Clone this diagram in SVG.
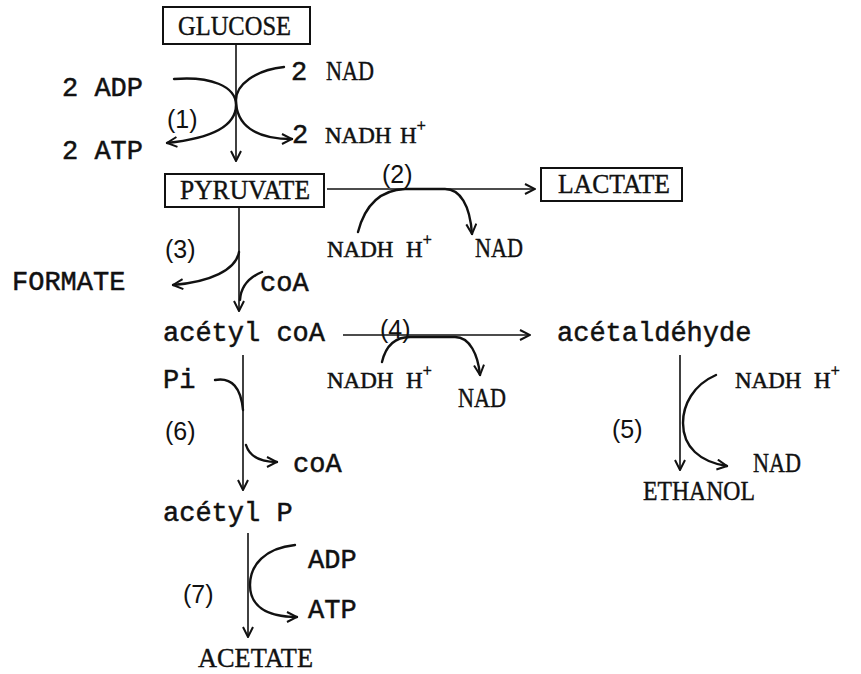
<svg xmlns="http://www.w3.org/2000/svg" width="861" height="674" viewBox="0 0 861 674">
<style>
.mono{font-family:"Liberation Mono","Courier New",monospace;font-size:27px;fill:#111;stroke:#111;stroke-width:0.5}
.serif{font-family:"Liberation Serif","Times New Roman",serif;font-size:27px;fill:#111;stroke:#111;stroke-width:0.4}
.nadh{font-family:"Liberation Serif","Times New Roman",serif;font-size:23px;fill:#111;stroke:#111;stroke-width:0.5}
.hand{font-family:"Liberation Sans",Arial,sans-serif;font-size:25px;fill:#111}
.box{fill:#fff;stroke:#111;stroke-width:2}
.ln{fill:none;stroke:#111;stroke-width:1.6}
.cv{fill:none;stroke:#111;stroke-width:2.4;stroke-linecap:round}
</style>
<defs>
<marker id="chev" viewBox="0 0 12 12" refX="11" refY="6" markerWidth="12" markerHeight="12" markerUnits="userSpaceOnUse" orient="auto">
<path d="M1,1 L11,6 L1,11" fill="none" stroke="#111" stroke-width="2"/>
</marker>
</defs>
<rect width="861" height="674" fill="#fff"/>

<g id="connectors">
<path class="ln" d="M236,44 V161" marker-end="url(#chev)"/>
<path class="cv" d="M174,79 C210,76 236,86 236,105 C236,125 215,138 167,143" marker-end="url(#chev)"/>
<path class="cv" d="M284,67 C255,70 236,85 236,100 C236,125 255,139 292,139" marker-end="url(#chev)"/>
<path class="ln" d="M327,189 H535" marker-end="url(#chev)"/>
<path class="cv" d="M358,232 C365,205 380,190 405,189 H445 C460,189 470,205 472,234" marker-end="url(#chev)"/>
<path class="ln" d="M239,208 V311" marker-end="url(#chev)"/>
<path class="cv" d="M239,252 C236,270 210,282 173,285" marker-end="url(#chev)"/>
<path class="cv" d="M262,272 C250,277 241,285 240,300"/>
<path class="ln" d="M343,335 H530" marker-end="url(#chev)"/>
<path class="cv" d="M382,362 C386,345 395,337 410,337 H455 C470,337 478,355 480,375" marker-end="url(#chev)"/>
<path class="ln" d="M680,355 V470" marker-end="url(#chev)"/>
<path class="cv" d="M716,375 C693,385 683,405 683,423 C683,447 700,462 727,466" marker-end="url(#chev)"/>
<path class="ln" d="M243,355 V490" marker-end="url(#chev)"/>
<path class="cv" d="M215,380 C232,377 241,388 243,410"/>
<path class="cv" d="M246,445 C250,458 262,462 277,462" marker-end="url(#chev)"/>
<path class="ln" d="M248,533 V637" marker-end="url(#chev)"/>
<path class="cv" d="M295,545 C265,548 250,565 250,585 C250,605 265,617 297,617" marker-end="url(#chev)"/>
</g>

<g id="glucose">
<rect class="box" x="163" y="7" width="147" height="37"/>
<text class="serif" x="178" y="35" textLength="113" lengthAdjust="spacingAndGlyphs">GLUCOSE</text>
</g>
<g id="pyruvate">
<rect class="box" x="165" y="174" width="159" height="33"/>
<text class="serif" x="180" y="199" textLength="130" lengthAdjust="spacingAndGlyphs">PYRUVATE</text>
</g>
<g id="lactate">
<rect class="box" x="541" y="168" width="141" height="33"/>
<text class="serif" x="558" y="193" textLength="112" lengthAdjust="spacingAndGlyphs">LACTATE</text>
</g>
<g id="formate"><text class="mono" x="12" y="290">FORMATE</text></g>
<g id="acetylcoa"><text class="mono" x="163" y="341">acétyl coA</text></g>
<g id="acetaldehyde"><text class="mono" x="557" y="341">acétaldéhyde</text></g>
<g id="ethanol"><text class="serif" x="643" y="500" textLength="112" lengthAdjust="spacingAndGlyphs">ETHANOL</text></g>
<g id="acetylp"><text class="mono" x="163" y="521">acétyl P</text></g>
<g id="acetate"><text class="serif" x="198" y="667" textLength="115" lengthAdjust="spacingAndGlyphs">ACETATE</text></g>

<g id="step1">
<text class="mono" x="62" y="96">2 ADP</text>
<text class="mono" x="62" y="159">2 ATP</text>
<text class="mono" x="291" y="80">2</text>
<text class="serif" x="326" y="80" textLength="48" lengthAdjust="spacingAndGlyphs">NAD</text>
<text class="mono" x="292" y="143">2</text>
<text class="nadh" x="325" y="143">NADH<tspan x="400">H</tspan><tspan dy="-12" font-size="16">+</tspan></text>
<text class="hand" x="167" y="128">(1)</text>
</g>
<g id="step2">
<text class="hand" x="382" y="183">(2)</text>
<text class="nadh" x="327" y="257">NADH<tspan x="406">H</tspan><tspan dy="-12" font-size="16">+</tspan></text>
<text class="serif" x="475" y="257" textLength="48" lengthAdjust="spacingAndGlyphs">NAD</text>
</g>
<g id="step3">
<text class="hand" x="165" y="258">(3)</text>
<text class="mono" x="260" y="291">coA</text>
</g>
<g id="step4">
<text class="hand" x="380" y="338">(4)</text>
<text class="nadh" x="327" y="388">NADH<tspan x="406">H</tspan><tspan dy="-12" font-size="16">+</tspan></text>
<text class="serif" x="458" y="407" textLength="48" lengthAdjust="spacingAndGlyphs">NAD</text>
</g>
<g id="step5">
<text class="nadh" x="735" y="388">NADH<tspan x="814">H</tspan><tspan dy="-12" font-size="16">+</tspan></text>
<text class="hand" x="612" y="438">(5)</text>
<text class="serif" x="753" y="472" textLength="48" lengthAdjust="spacingAndGlyphs">NAD</text>
</g>
<g id="step6">
<text class="mono" x="163" y="388">Pi</text>
<text class="hand" x="165" y="440">(6)</text>
<text class="mono" x="293" y="472">coA</text>
</g>
<g id="step7">
<text class="mono" x="308" y="568">ADP</text>
<text class="hand" x="183" y="603">(7)</text>
<text class="mono" x="308" y="618">ATP</text>
</g>
</svg>
